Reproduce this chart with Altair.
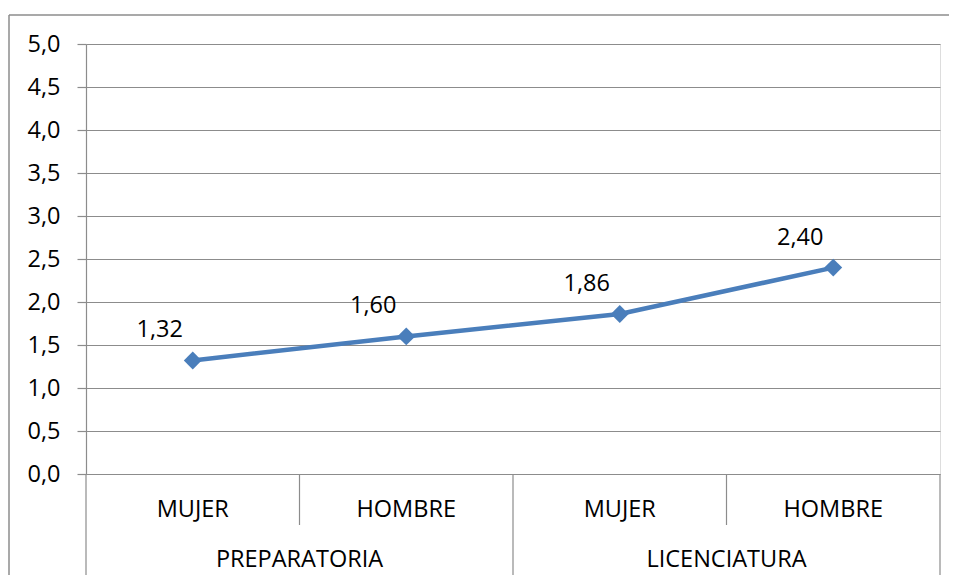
import altair as alt
import pandas as pd

# ---- data ----
categories = ["MUJER", "HOMBRE", "MUJER", "HOMBRE"]
groups = ["PREPARATORIA", "PREPARATORIA", "LICENCIATURA", "LICENCIATURA"]
values = [1.32, 1.60, 1.86, 2.40]
group_names = ["PREPARATORIA", "LICENCIATURA"]
y_ticks = [0.0, 0.5, 1.0, 1.5, 2.0, 2.5, 3.0, 3.5, 4.0, 4.5, 5.0]

FONT = "Open Sans"
FS = 23.5
GRAY = "#8c8c8c"
BLUE = "#4A7EBB"

W, H = 854, 430

pts = pd.DataFrame({
    "pos": [i + 0.5 for i in range(len(values))],
    "cat": categories,
    "grp": groups,
    "val": values,
    "lbl": [f"{v:.2f}".replace(".", ",") for v in values],
})
grp_df = pd.DataFrame({"pos": [1.0, 3.0], "grp": group_names})
outer_div = pd.DataFrame({"pos": [0, 2, 4]})
inner_div = pd.DataFrame({"pos": [1, 3]})

xs = alt.Scale(domain=[0, 4], nice=False, zero=False)
ys = alt.Scale(domain=[0, 5], nice=False, zero=True)

X = lambda: alt.X("pos:Q", scale=xs, axis=None)

base_y = alt.Y(
    "val:Q", scale=ys,
    axis=alt.Axis(
        values=y_ticks, title=None, grid=True, gridColor=GRAY, gridWidth=1.2,
        domainColor=GRAY, domainWidth=1.2, tickColor=GRAY, tickWidth=1.2, tickSize=9,
        labelPadding=17, labelFont=FONT, labelFontSize=FS, labelColor="#000000",
        labelExpr="replace(format(datum.value, '.1f'), '.', ',')",
    ),
)

one = pd.DataFrame({"a": [0]})
frame_top = alt.Chart(one).mark_rule(color=GRAY, strokeWidth=1.5).encode(
    x=alt.value(-77), x2=alt.value(900), y=alt.value(-29)
)
frame_left = alt.Chart(one).mark_rule(color=GRAY, strokeWidth=1.5).encode(
    x=alt.value(-77), y=alt.value(-29), y2=alt.value(560)
)

line = alt.Chart(pts).mark_line(color=BLUE, strokeWidth=4.5).encode(x=X(), y=base_y)
marks = alt.Chart(pts).mark_point(
    shape="diamond", filled=True, color=BLUE, size=320, opacity=1
).encode(x=X(), y=alt.Y("val:Q", scale=ys))
labels = alt.Chart(pts).mark_text(
    font=FONT, fontSize=FS, color="#000000", dx=-33, dy=-30, baseline="middle"
).encode(x=X(), y=alt.Y("val:Q", scale=ys), text="lbl:N")

outer = alt.Chart(outer_div).mark_rule(color=GRAY, strokeWidth=1.2).encode(
    x=X(), y=alt.value(H), y2=alt.value(H + 103)
)
inner = alt.Chart(inner_div).mark_rule(color=GRAY, strokeWidth=1.2).encode(
    x=X(), y=alt.value(H), y2=alt.value(H + 51)
)
cat_text = alt.Chart(pts).mark_text(
    font=FONT, fontSize=FS, color="#000000", baseline="middle"
).encode(x=X(), y=alt.value(H + 36), text="cat:N")
grp_text = alt.Chart(grp_df).mark_text(
    font=FONT, fontSize=FS, color="#000000", baseline="middle"
).encode(x=X(), y=alt.value(H + 86), text="grp:N")

chart = alt.layer(
    frame_top, frame_left, line, outer, inner, cat_text, grp_text, marks, labels
).properties(
    width=W, height=H,
    autosize=alt.AutoSizeParams(type="none"),
    padding={"left": 78, "top": 36, "right": 9, "bottom": 101},
).configure_view(stroke=None).configure(background="white")

chart.save("out.html", embed_options={"renderer": "svg", "actions": False})
